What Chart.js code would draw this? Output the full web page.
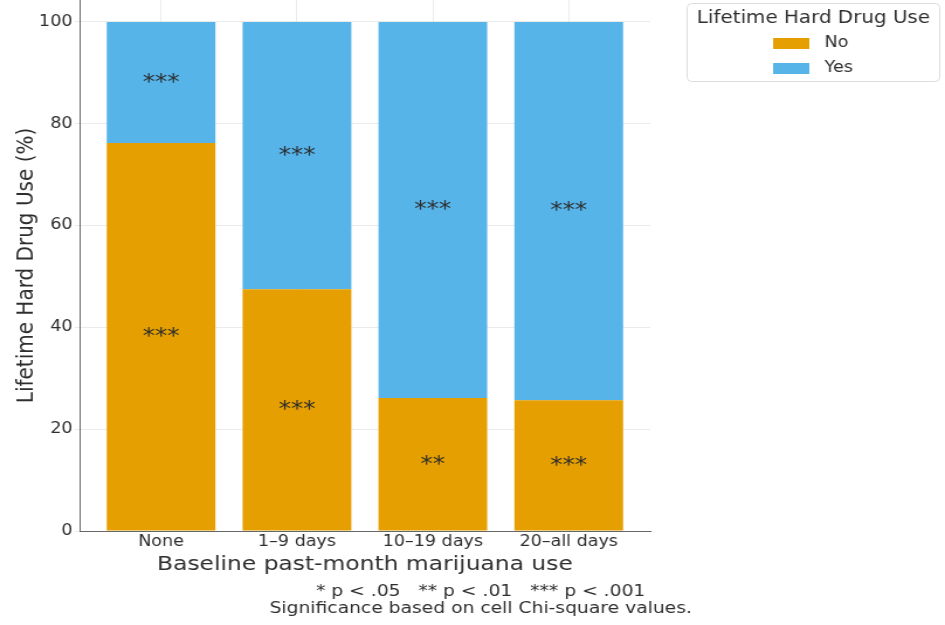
<!DOCTYPE html>
<html>
<head>
<meta charset="utf-8">
<title>Lifetime Hard Drug Use by Baseline Marijuana Use</title>
<script src="https://cdn.jsdelivr.net/npm/chart.js@4/dist/chart.umd.min.js"></script>
<style>
  html, body { margin: 0; padding: 0; background: #ffffff; overflow: hidden; }
  #wrap { width: 945px; height: 625px; position: relative; }
</style>
</head>
<body>
<div id="wrap">
  <!-- drawn at 808 px wide, shown 945 px wide (wide-aspect figure) -->
  <canvas id="chart" width="808" height="625" style="width:945px;height:625px;"></canvas>
</div>
<script>
// Baseline past-month marijuana use groups
const categories = ['None', '1\u20139 days', '10\u201319 days', '20\u2013all days'];

// Percent of each group by lifetime hard drug use
const noValues  = [76.2, 47.5, 26.1, 25.7];
const yesValues = [23.8, 52.5, 73.9, 74.3];

// Cell chi-square significance markers
const noStars  = ['***', '***', '**', '***'];
const yesStars = ['***', '***', '***', '***'];

const yTicks = [0, 20, 40, 60, 80, 100];

const seriesNames = ['No', 'Yes'];
const seriesColors = ['#E69F00', '#56B4E9'];
const textColor = '#2e2e2e';
const fontFamily = "'DejaVu Sans', sans-serif";

// Stars centred in each stacked segment
const starLabels = {
  id: 'starLabels',
  afterDatasetsDraw(chart) {
    const ctx = chart.ctx;
    const starSets = [noStars, yesStars];
    ctx.save();
    ctx.fillStyle = textColor;
    ctx.font = '21px ' + fontFamily;
    ctx.textAlign = 'center';
    ctx.textBaseline = 'middle';
    chart.data.datasets.forEach((ds, di) => {
      const meta = chart.getDatasetMeta(di);
      meta.data.forEach((bar, i) => {
        const p = bar.getProps(['x', 'y', 'base'], true);
        ctx.fillText(starSets[di][i], p.x, (p.y + p.base) / 2 + 1);
      });
    });
    ctx.restore();
  }
};

// Boxed legend with a title, plus the significance note under the axis
const sideNotes = {
  id: 'sideNotes',
  afterDraw(chart) {
    const ctx = chart.ctx;
    ctx.save();
    // legend frame
    const bx = 587.5, by = 3.5, bw = 216, bh = 78, r = 4;
    ctx.beginPath();
    ctx.moveTo(bx + r, by);
    ctx.lineTo(bx + bw - r, by);
    ctx.quadraticCurveTo(bx + bw, by, bx + bw, by + r);
    ctx.lineTo(bx + bw, by + bh - r);
    ctx.quadraticCurveTo(bx + bw, by + bh, bx + bw - r, by + bh);
    ctx.lineTo(bx + r, by + bh);
    ctx.quadraticCurveTo(bx, by + bh, bx, by + bh - r);
    ctx.lineTo(bx, by + r);
    ctx.quadraticCurveTo(bx, by, bx + r, by);
    ctx.closePath();
    ctx.fillStyle = 'rgba(255,255,255,0.8)';
    ctx.fill();
    ctx.strokeStyle = '#dddddd';
    ctx.lineWidth = 1;
    ctx.stroke();

    ctx.fillStyle = textColor;
    ctx.textBaseline = 'middle';
    ctx.textAlign = 'center';
    ctx.font = '17px ' + fontFamily;
    ctx.fillText('Lifetime Hard Drug Use', bx + bw / 2, 19);

    ctx.textAlign = 'left';
    ctx.font = '15px ' + fontFamily;
    seriesNames.forEach((name, i) => {
      const cy = 43 + i * 25;
      ctx.fillStyle = seriesColors[i];
      ctx.fillRect(661, cy - 5, 31, 11);
      ctx.fillStyle = textColor;
      ctx.fillText(name, 705, cy);
    });

    // significance note
    ctx.textAlign = 'center';
    ctx.font = '16px ' + fontFamily;
    ctx.fillText('* p < .05   ** p < .01   *** p < .001', 411, 592);
    ctx.fillText('Significance based on cell Chi-square values.', 411, 609);
    ctx.restore();
  }
};

const gridColor = 'rgba(0,0,0,0.08)';

new Chart(document.getElementById('chart'), {
  type: 'bar',
  data: {
    datasets: [
      {
        label: seriesNames[0],
        data: noValues.map((v, i) => ({ x: i, y: v })),
        backgroundColor: seriesColors[0],
        borderWidth: 0
      },
      {
        label: seriesNames[1],
        data: yesValues.map((v, i) => ({ x: i, y: v })),
        backgroundColor: seriesColors[1],
        borderWidth: 0
      }
    ]
  },
  options: {
    responsive: false,
    animation: false,
    devicePixelRatio: 1,
    barPercentage: 0.8,
    categoryPercentage: 1.0,
    layout: { padding: { left: 0, right: 252, top: 0, bottom: 0 } },
    plugins: {
      legend: { display: false },
      tooltip: { enabled: false }
    },
    scales: {
      x: {
        type: 'linear',
        stacked: true,
        offset: false,
        min: -0.6,
        max: 3.6,
        z: 1,
        afterBuildTicks(scale) {
          scale.ticks = categories.map((c, i) => ({ value: i }));
        },
        afterFit(scale) {
          scale.height = 94;
          scale.paddingLeft = 0;
          scale.paddingRight = 0;
        },
        ticks: {
          color: textColor,
          font: { family: fontFamily, size: 15 },
          padding: 2,
          maxRotation: 0,
          autoSkip: false,
          callback: (v) => categories[v] ?? ''
        },
        grid: {
          color: gridColor,
          offset: false,
          drawTicks: false
        },
        border: { color: '#666666', width: 1 },
        title: {
          display: true,
          text: 'Baseline past-month marijuana use',
          color: textColor,
          font: { family: fontFamily, size: 20 },
          padding: { top: 0, bottom: 48 }
        }
      },
      y: {
        stacked: true,
        min: 0,
        max: 104.3,
        z: 1,
        afterBuildTicks(scale) {
          scale.ticks = yTicks.map(v => ({ value: v }));
        },
        afterFit(scale) {
          scale.width = 68;
          scale.paddingTop = 0;
          scale.paddingBottom = 0;
        },
        ticks: {
          color: textColor,
          font: { family: fontFamily, size: 15 },
          padding: 2
        },
        grid: {
          color: gridColor,
          tickLength: 4,
          drawTicks: true
        },
        border: { color: '#666666', width: 1 },
        title: {
          display: true,
          text: 'Lifetime Hard Drug Use (%)',
          color: textColor,
          font: { family: fontFamily, size: 20 },
          padding: { top: 11, bottom: 0 }
        }
      }
    }
  },
  plugins: [starLabels, sideNotes]
});
</script>
</body>
</html>
